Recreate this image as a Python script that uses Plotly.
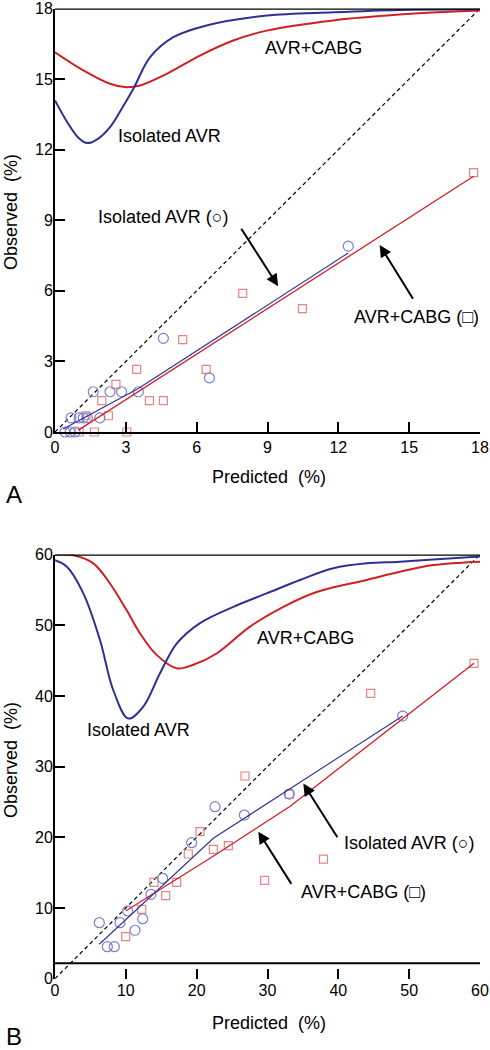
import plotly.graph_objects as go

# ---------------- Panel A data (0-18 %) ----------------
a_avr_pred = [0.42, 0.64, 0.85, 0.68, 1.02, 1.2, 1.37, 1.9, 1.62, 2.33, 2.82, 3.53, 4.59, 6.54, 12.42]
a_avr_obs = [0.0, 0.0, 0.0, 0.6, 0.6, 0.6, 0.6, 0.6, 1.71, 1.71, 1.71, 1.71, 3.98, 2.3, 7.9]
a_cabg_pred = [1.02, 1.67, 3.04, 1.31, 2.26, 1.98, 4.0, 4.59, 2.58, 3.46, 6.4, 5.41, 7.95, 10.48, 17.73]
a_cabg_obs = [0.0, 0.0, 0.0, 0.69, 0.69, 1.33, 1.33, 1.33, 2.02, 2.66, 2.66, 3.93, 5.89, 5.24, 11.02]
a_avr_fit_x = [0.35, 3.53, 12.42]
a_avr_fit_y = [0.13, 1.85, 7.61]
a_cabg_fit_x = [0.99, 17.73]
a_cabg_fit_y = [0.08, 10.87]
a_avr_dist_x = [0, 0.5, 1.0, 1.37, 1.8, 2.33, 2.8, 3.32, 4.03, 5.01, 6.42, 8.97, 11.79, 14.6, 18]
a_avr_dist_y = [14.09, 13.2, 12.5, 12.28, 12.45, 12.96, 13.7, 14.59, 15.93, 16.78, 17.28, 17.7, 17.84, 17.94, 17.97]
a_cabg_dist_x = [0, 1.2, 2.33, 2.96, 3.6, 4.73, 6.14, 7.55, 8.97, 11.79, 14.6, 18]
a_cabg_dist_y = [16.14, 15.37, 14.8, 14.66, 14.73, 15.22, 16.0, 16.64, 17.06, 17.49, 17.74, 17.91]
a_ticks = [0, 3, 6, 9, 12, 15, 18]

# ---------------- Panel B data (0-60 %) ----------------
b_avr_pred = [6.26, 7.39, 8.38, 9.18, 10.26, 11.29, 12.38, 13.55, 15.2, 19.3, 22.59, 26.73, 33.08, 49.08]
b_avr_obs = [7.92, 4.53, 4.53, 7.92, 9.58, 6.85, 8.49, 11.94, 14.2, 19.24, 24.33, 23.15, 26.12, 37.15]
b_cabg_pred = [9.98, 12.24, 13.98, 15.63, 17.18, 18.82, 20.47, 22.35, 24.47, 26.82, 29.6, 33.08, 37.9, 44.57, 59.15]
b_cabg_obs = [5.94, 9.81, 13.63, 11.74, 13.63, 17.64, 20.8, 18.3, 18.81, 28.67, 13.9, 26.12, 16.9, 40.37, 44.61]
b_avr_fit_x = [6.26, 22.35, 49.08]
b_avr_fit_y = [4.87, 19.86, 37.15]
b_cabg_fit_x = [9.98, 22.0, 33.2, 59.15]
b_cabg_fit_y = [9.58, 17.1, 24.4, 44.61]
b_avr_dist_x = [0, 1.65, 4.0, 6.35, 8.23, 10.35, 12.47, 14.82, 17.18, 20.47, 25.18, 29.88, 34.59, 39.3, 44.0, 48.7, 53.4, 60]
b_avr_dist_y = [59.2, 58.3, 54.5, 47.9, 40.8, 36.8, 38.5, 43.2, 47.4, 50.3, 52.6, 54.5, 56.4, 58.05, 58.75, 58.98, 59.3, 59.7]
b_cabg_dist_x = [0, 2.59, 5.41, 7.76, 10.12, 12.0, 14.35, 17.18, 19.53, 22.82, 27.53, 32.24, 36.94, 44.0, 48.7, 53.4, 60]
b_cabg_dist_y = [60.0, 59.9, 58.75, 55.9, 52.1, 48.85, 45.8, 43.9, 44.4, 46.0, 49.8, 52.6, 54.7, 56.4, 57.55, 58.5, 58.98]
b_ticks = [0, 10, 20, 30, 40, 50, 60]
b_break_y = 2.2

BLUE = "#2e3192"
RED = "#cf2027"
BLUE_M = "#7b7fd0"
RED_M = "#e48585"
FONT = "Arial, Liberation Sans, Helvetica, sans-serif"

fig = go.Figure()

def add_panel(xa, ya, avr_p, avr_o, cabg_p, cabg_o, afx, afy, cfx, cfy, adx, ady, cdx, cdy, top):
    fig.add_trace(go.Scatter(x=[0, top], y=[0, top], mode="lines", xaxis=xa, yaxis=ya,
                             line=dict(color="black", width=1.2, dash="4px,3px"), showlegend=False))
    fig.add_trace(go.Scatter(x=cdx, y=cdy, mode="lines", xaxis=xa, yaxis=ya, line_shape="spline",
                             line=dict(color=RED, width=2), showlegend=False))
    fig.add_trace(go.Scatter(x=adx, y=ady, mode="lines", xaxis=xa, yaxis=ya, line_shape="spline",
                             line=dict(color=BLUE, width=2), showlegend=False))
    fig.add_trace(go.Scatter(x=cabg_p, y=cabg_o, mode="markers", xaxis=xa, yaxis=ya, cliponaxis=False,
                             marker=dict(symbol="square-open", size=8, color=RED_M, line=dict(width=1.2)),
                             showlegend=False))
    fig.add_trace(go.Scatter(x=avr_p, y=avr_o, mode="markers", xaxis=xa, yaxis=ya, cliponaxis=False,
                             marker=dict(symbol="circle-open", size=10, color=BLUE_M, line=dict(width=1.2)),
                             showlegend=False))
    fig.add_trace(go.Scatter(x=cfx, y=cfy, mode="lines", xaxis=xa, yaxis=ya,
                             line=dict(color=RED, width=1.3), showlegend=False))
    fig.add_trace(go.Scatter(x=afx, y=afy, mode="lines", xaxis=xa, yaxis=ya,
                             line=dict(color=BLUE, width=1.1), showlegend=False))

add_panel("x", "y", a_avr_pred, a_avr_obs, a_cabg_pred, a_cabg_obs, a_avr_fit_x, a_avr_fit_y,
          a_cabg_fit_x, a_cabg_fit_y, a_avr_dist_x, a_avr_dist_y, a_cabg_dist_x, a_cabg_dist_y, 18)
add_panel("x2", "y2", b_avr_pred, b_avr_obs, b_cabg_pred, b_cabg_obs, b_avr_fit_x, b_avr_fit_y,
          b_cabg_fit_x, b_cabg_fit_y, b_avr_dist_x, b_avr_dist_y, b_cabg_dist_x, b_cabg_dist_y, 60)

W, H = 490, 1050
def PX(px):
    return px / W
def PY(py):
    return 1 - py / H

xdom = [PX(55), PX(480)]
ydomA = [PY(432), PY(8.5)]
ydomB = [PY(978.7), PY(554.5)]

axis_common = dict(ticks="inside", ticklen=10, tickwidth=2, tickcolor="black", automargin=False,
                   showgrid=False, zeroline=False, tickfont=dict(size=16, color="black", family=FONT))

fig.update_layout(
    width=W, height=H, margin=dict(l=0, r=0, t=0, b=0, autoexpand=False),
    paper_bgcolor="white", plot_bgcolor="white", font=dict(family=FONT, color="black"),
    xaxis=dict(domain=xdom, range=[0, 18], tickvals=a_ticks, showline=True, linecolor="black",
               linewidth=2, anchor="y", **axis_common),
    yaxis=dict(domain=ydomA, range=[0, 18], tickvals=a_ticks, showline=True, linecolor="black",
               linewidth=2, anchor="x", ticklabelstandoff=-3, **axis_common),
    xaxis2=dict(domain=xdom, range=[0, 60], tickvals=b_ticks, showline=False, anchor="y2", **axis_common),
    yaxis2=dict(domain=ydomB, range=[0, 60], tickvals=b_ticks, showline=True, linecolor="black",
                linewidth=2, anchor="x2", ticklabelstandoff=-3, **axis_common),
)

fig.add_shape(type="line", xref="x", yref="y", x0=0, x1=18, y0=18, y1=18, line=dict(color="black", width=2.5))
fig.add_shape(type="line", xref="x2", yref="y2", x0=0, x1=60, y0=60, y1=60, line=dict(color="black", width=2.5))
fig.add_shape(type="line", xref="x2", yref="y2", x0=0, x1=60, y0=b_break_y, y1=b_break_y,
              line=dict(color="black", width=2))

def txt(x, y, s, xref, yref, size=18):
    fig.add_annotation(x=x, y=y, xref=xref, yref=yref, text=s, showarrow=False,
                       font=dict(size=size, family=FONT, color="black"))

def arrow(x, y, ax, ay, xref, yref):
    fig.add_annotation(x=x, y=y, ax=ax, ay=ay, xref=xref, yref=yref, axref=xref, ayref=yref,
                       text="", showarrow=True, arrowhead=2, arrowsize=1.2, arrowwidth=2, arrowcolor="black")

# Panel A labels
txt(10.93, 16.3, "AVR+CABG", "x", "y")
txt(4.87, 12.6, "Isolated AVR", "x", "y")
txt(4.6, 9.15, "Isolated AVR (○)", "x", "y")
arrow(9.45, 6.2, 7.85, 8.7, "x", "y")
txt(15.3, 4.88, "AVR+CABG (□)", "x", "y")
arrow(13.75, 7.95, 15.2, 5.6, "x", "y")

# Panel B labels
txt(35.3, 48.2, "AVR+CABG", "x2", "y2")
txt(11.76, 35.2, "Isolated AVR", "x2", "y2")
txt(50.1, 19.15, "Isolated AVR (○)", "x2", "y2")
arrow(35.06, 27.6, 40.0, 19.8, "x2", "y2")
txt(43.55, 12.3, "AVR+CABG (□)", "x2", "y2")
arrow(28.7, 20.8, 33.5, 13.2, "x2", "y2")

def ptxt(px, py, s, size=18, angle=0):
    fig.add_annotation(x=PX(px), y=PY(py), xref="paper", yref="paper", text=s, showarrow=False,
                       textangle=angle, font=dict(size=size, family=FONT, color="black"),
                       xanchor="center", yanchor="middle")

ptxt(11, 212, "Observed  (%)", angle=-90)
ptxt(11, 760, "Observed  (%)", angle=-90)
ptxt(269, 477, "Predicted  (%)")
ptxt(269, 1023, "Predicted  (%)")
ptxt(14, 494, "A", size=24)
ptxt(14, 1036, "B", size=24)

# remove the default 8px page margin so the figure fills the window exactly
fig.write_html("out.html", config={"displayModeBar": False},
               post_script="document.body.style.margin='0px';document.body.style.padding='0px';")
